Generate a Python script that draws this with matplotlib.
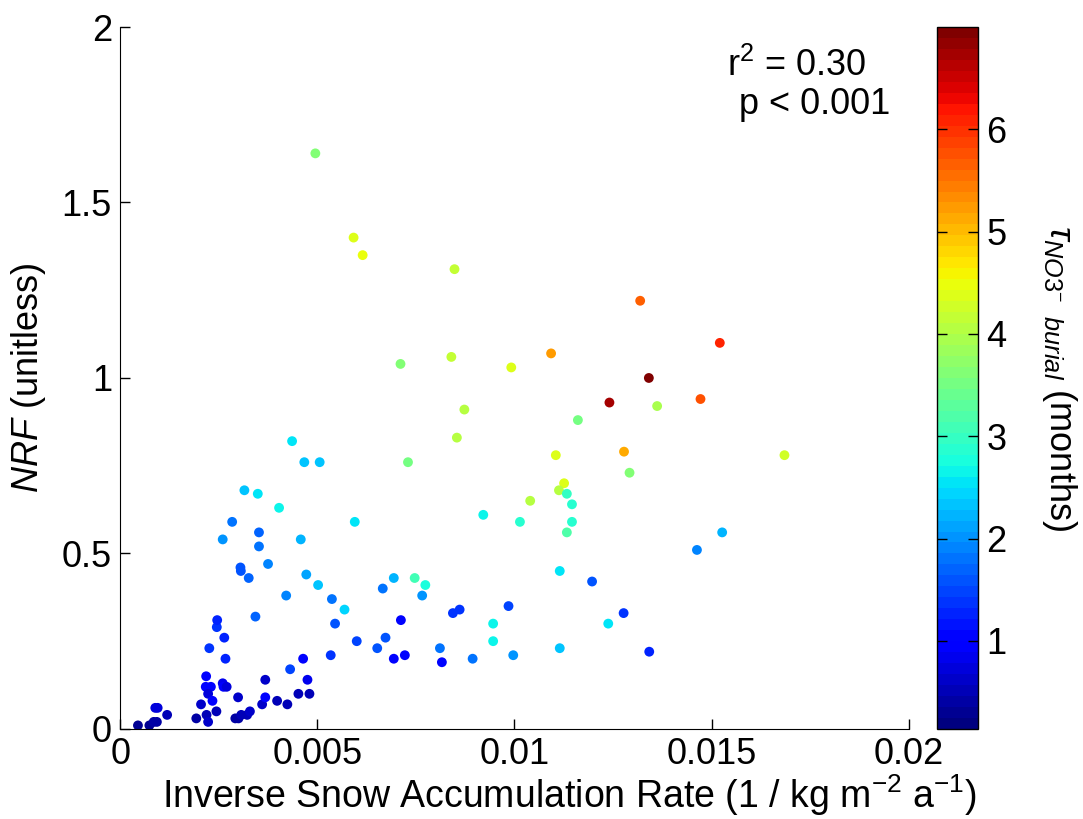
import matplotlib
matplotlib.use("Agg")
import matplotlib.pyplot as plt
import numpy as np

# Inverse snow accumulation rate (1 / kg m-2 a-1)
inv_acc = [
    0.00045, 0.00074, 0.00085, 0.00093, 0.00089, 0.00095, 0.00119,
    0.00193, 0.00205, 0.00218, 0.00217, 0.00230, 0.00219, 0.00223, 0.00223,
    0.00234, 0.00244, 0.00260, 0.00262, 0.00270, 0.00299, 0.00292, 0.00300,
    0.00307, 0.00322, 0.00329, 0.00360, 0.00368, 0.00368, 0.00398, 0.00424,
    0.00452, 0.00480, 0.00475, 0.00431, 0.00464, 0.00267, 0.00226, 0.00264,
    0.00245, 0.00246, 0.00534, 0.00343, 0.00545, 0.00600, 0.00569, 0.00537,
    0.00421, 0.00502, 0.00472, 0.00326, 0.00306, 0.00305, 0.00375, 0.00352,
    0.00458, 0.00260, 0.00352, 0.00595, 0.00284, 0.00403, 0.00315, 0.00349,
    0.00467, 0.00506, 0.00436,
    0.00921, 0.01014, 0.01146, 0.01146, 0.01133, 0.01040, 0.00694, 0.00747,
    0.00774, 0.00666, 0.00766, 0.01115, 0.01197, 0.00712, 0.00844, 0.00861,
    0.00985, 0.00946, 0.01238, 0.01277, 0.00673, 0.00652, 0.00811, 0.00946,
    0.01115, 0.00694, 0.00722, 0.00816, 0.00894, 0.00997, 0.01342,
    0.00592, 0.00615, 0.00848, 0.01319, 0.00711, 0.00840, 0.00992, 0.01093,
    0.01341, 0.01241, 0.00873, 0.01161, 0.00854, 0.00730, 0.01105, 0.01278,
    0.01292, 0.01126, 0.01113, 0.01133, 0.00495,
    0.01521, 0.01472, 0.01362, 0.01685, 0.01527, 0.01463,
]

# NRF (unitless)
nrf = [
    0.01, 0.01, 0.02, 0.02, 0.06, 0.06, 0.04,
    0.03, 0.07, 0.15, 0.12, 0.12, 0.04, 0.10, 0.02,
    0.08, 0.05, 0.13, 0.12, 0.12, 0.09, 0.03, 0.03,
    0.04, 0.04, 0.05, 0.07, 0.09, 0.14, 0.08, 0.07,
    0.10, 0.10, 0.14, 0.17, 0.20, 0.20, 0.23, 0.26,
    0.29, 0.31, 0.21, 0.32, 0.30, 0.25, 0.34, 0.37,
    0.38, 0.41, 0.44, 0.43, 0.45, 0.46, 0.47, 0.52,
    0.54, 0.54, 0.56, 0.59, 0.59, 0.63, 0.68, 0.67,
    0.76, 0.76, 0.82,
    0.61, 0.59, 0.64, 0.59, 0.56, 0.65, 0.43, 0.43,
    0.41, 0.40, 0.38, 0.45, 0.42, 0.31, 0.33, 0.34,
    0.35, 0.30, 0.30, 0.33, 0.26, 0.23, 0.23, 0.25,
    0.23, 0.20, 0.21, 0.19, 0.20, 0.21, 0.22,
    1.40, 1.35, 1.31, 1.22, 1.04, 1.06, 1.03, 1.07,
    1.00, 0.93, 0.91, 0.88, 0.83, 0.76, 0.78, 0.79,
    0.73, 0.70, 0.68, 0.67, 1.64,
    1.10, 0.94, 0.92, 0.78, 0.56, 0.51,
]

# tau NO3- burial (months)
tau = [
    0.3, 0.3, 0.4, 0.4, 0.7, 0.7, 0.5,
    0.4, 0.6, 0.9, 0.9, 0.9, 0.5, 0.7, 0.6,
    0.9, 0.5, 0.8, 0.9, 0.7, 0.6, 0.4, 0.4,
    0.5, 0.5, 0.6, 0.6, 1.0, 0.6, 0.5, 0.5,
    0.5, 0.5, 0.8, 1.5, 1.1, 1.3, 1.4, 1.3,
    1.4, 1.3, 1.4, 1.7, 1.6, 1.5, 2.4, 1.8,
    1.9, 2.3, 2.1, 1.7, 1.6, 1.6, 1.9, 1.8,
    2.2, 2.0, 1.7, 2.6, 1.8, 2.7, 2.3, 2.6,
    2.3, 2.3, 2.5,
    2.7, 2.9, 2.9, 2.9, 3.2, 4.1, 2.2, 3.1,
    2.8, 1.8, 2.0, 2.5, 1.6, 1.1, 1.4, 1.4,
    1.5, 2.7, 2.6, 1.4, 1.6, 1.6, 1.8, 2.7,
    2.3, 1.0, 1.0, 1.0, 1.8, 2.0, 1.3,
    4.4, 4.5, 4.2, 5.7, 3.6, 4.2, 4.4, 5.2,
    7.0, 6.7, 4.0, 3.5, 4.1, 3.5, 4.4, 5.1,
    3.6, 4.4, 4.1, 3.0, 3.6,
    6.1, 5.8, 3.9, 4.3, 2.2, 1.9,
]

x_ticks = [0, 0.005, 0.01, 0.015, 0.02]
x_ticklabels = ["0", "0.005", "0.01", "0.015", "0.02"]
y_ticks = [0, 0.5, 1, 1.5, 2]
y_ticklabels = ["0", "0.5", "1", "1.5", "2"]
cb_ticks = [1, 2, 3, 4, 5, 6]

plt.rcParams['font.family'] = ['Liberation Sans', 'DejaVu Sans']
plt.rcParams['mathtext.fontset'] = 'custom'
plt.rcParams['mathtext.rm'] = 'Liberation Sans'
plt.rcParams['mathtext.it'] = 'Liberation Sans:italic'
plt.rcParams['mathtext.bf'] = 'Liberation Sans:bold'

FS = 26

fig = plt.figure(figsize=(10.83, 8.19), dpi=100)
ax = fig.add_axes([0.111, 0.110, 0.728, 0.857])
cax = fig.add_axes([0.865, 0.110, 0.038, 0.857])

cmap = plt.get_cmap('jet', 64)
sc = ax.scatter(inv_acc, nrf, c=tau, cmap=cmap, vmin=0.14, vmax=7.0,
                s=50, linewidths=0)

ax.set_xlim(0, 0.02)
ax.set_ylim(0, 2)
ax.set_xticks(x_ticks)
ax.set_xticklabels(x_ticklabels)
ax.set_yticks(y_ticks)
ax.set_yticklabels(y_ticklabels)
ax.spines['top'].set_visible(False)
ax.spines['right'].set_visible(False)
ax.tick_params(direction='in', length=7, width=1, labelsize=FS, pad=6)
ax.set_xlabel(r'Inverse Snow Accumulation Rate (1 / kg m$^{-2}$ a$^{-1}$)', fontsize=27)
ax.xaxis.set_label_coords(0.57, -0.062)
ax.set_ylabel(r'$\it{NRF}$ (unitless)', fontsize=FS, labelpad=10)

ax.text(0.0154, 1.89, r'r$^2$ = 0.30', fontsize=FS, va='center', ha='left')
ax.text(0.0157, 1.78, 'p < 0.001', fontsize=FS, va='center', ha='left')

cb = fig.colorbar(sc, cax=cax, ticks=cb_ticks)
cb.outline.set_linewidth(1)
cax.tick_params(direction='in', length=7, width=1, labelsize=FS, left=True, right=True, pad=6)
cb.set_label(r'$\tau_{NO3^{-}\ \ burial}$ (months)', fontsize=FS, rotation=270, labelpad=52)

fig.savefig('out.png', dpi=100)
